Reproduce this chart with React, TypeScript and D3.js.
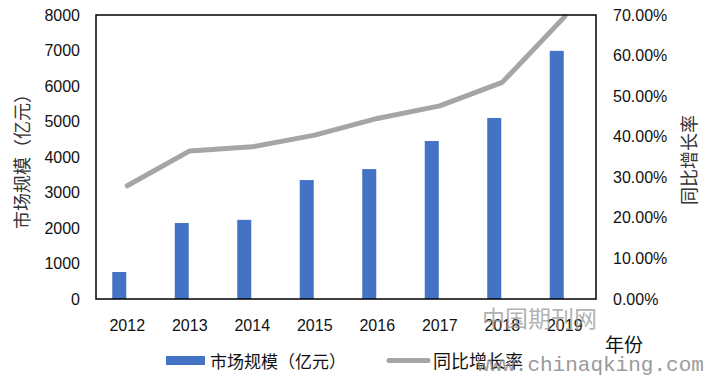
import React from "react";
import * as d3 from "d3";

const categories = ["2012", "2013", "2014", "2015", "2016", "2017", "2018", "2019"];
const marketSize = [760, 2140, 2230, 3350, 3660, 4450, 5100, 6990];
const growthRate = [27.9, 36.5, 37.5, 40.4, 44.5, 47.6, 53.4, 69.6];
const leftTicks = [0, 1000, 2000, 3000, 4000, 5000, 6000, 7000, 8000];
const rightTicks = [0, 10, 20, 30, 40, 50, 60, 70];
const seriesNames = ["市场规模（亿元）", "同比增长率"];

const W = 706;
const H = 380;
const plot = { left: 96, right: 596, top: 15, bottom: 299 };
const numFont = "'Liberation Sans', Arial, sans-serif";
const cjkFont = "'Noto Sans CJK SC', sans-serif";

export default function App() {
  const x = d3.scaleBand<string>().domain(categories).range([plot.left, plot.right]).padding(0);
  const sub = d3.scaleBand<string>().domain(["bar", "line"]).range([0, 28]);
  const yL = d3.scaleLinear().domain([0, 8000]).range([plot.bottom, plot.top]);
  const yR = d3.scaleLinear().domain([0, 70]).range([plot.bottom, plot.top]);
  const center = (c: string) => (x(c) as number) + x.bandwidth() / 2;

  const line = d3
    .line<number>()
    .x((_, i) => center(categories[i]))
    .y((d) => yR(d));

  return (
    <svg
      width={W}
      height={H}
      style={{ position: "absolute", left: 0, top: 0, background: "#fff" }}
    >
      <rect x={0} y={0} width={W} height={H} fill="#fff" />
      {/* bars */}
      {marketSize.map((v, i) => {
        const c = categories[i];
        const bx = center(c) - 15 + (sub("bar") as number);
        return (
          <rect
            key={c}
            x={bx}
            y={yL(v)}
            width={sub.bandwidth()}
            height={yL(0) - yL(v)}
            fill="#4472C4"
          />
        );
      })}
      {/* line */}
      <path
        d={line(growthRate) || ""}
        fill="none"
        stroke="#A5A5A5"
        strokeWidth={5}
        strokeLinecap="round"
        strokeLinejoin="round"
      />
      {/* frame */}
      <rect
        x={plot.left}
        y={plot.top}
        width={plot.right - plot.left}
        height={plot.bottom - plot.top}
        fill="none"
        stroke="#000"
        strokeWidth={1.5}
      />
      {/* left ticks */}
      {leftTicks.map((t) => (
        <text
          key={"l" + t}
          x={80}
          y={yL(t)}
          textAnchor="end"
          dominantBaseline="central"
          fontFamily={numFont}
          fontSize={16}
          fill="#111"
        >
          {t}
        </text>
      ))}
      {/* right ticks */}
      {rightTicks.map((t) => (
        <text
          key={"r" + t}
          x={613}
          y={yR(t)}
          textAnchor="start"
          dominantBaseline="central"
          fontFamily={numFont}
          fontSize={16}
          fill="#111"
        >
          {d3.format(".2f")(t) + "%"}
        </text>
      ))}
      {/* x labels */}
      {categories.map((c) => (
        <text
          key={"x" + c}
          x={center(c)}
          y={325}
          textAnchor="middle"
          dominantBaseline="central"
          fontFamily={numFont}
          fontSize={16}
          fill="#111"
        >
          {c}
        </text>
      ))}
      {/* axis titles */}
      <text
        transform={`translate(21,${(plot.top + plot.bottom) / 2}) rotate(-90)`}
        textAnchor="middle"
        dominantBaseline="central"
        fontFamily={cjkFont}
        fontSize={18}
        fill="#333"
      >
        市场规模（亿元）
      </text>
      <text
        transform={`translate(688,${160}) rotate(-90)`}
        textAnchor="middle"
        dominantBaseline="central"
        fontFamily={cjkFont}
        fontSize={18}
        fill="#333"
      >
        同比增长率
      </text>
      <text
        x={624}
        y={343}
        textAnchor="middle"
        dominantBaseline="central"
        fontFamily={cjkFont}
        fontSize={19}
        fill="#111"
      >
        年份
      </text>
      {/* legend */}
      <rect x={166} y={356} width={39} height={9} fill="#4472C4" />
      <text
        x={210}
        y={360}
        dominantBaseline="central"
        fontFamily={cjkFont}
        fontSize={17}
        fill="#111"
      >
        {seriesNames[0]}
      </text>
      <line
        x1={389}
        x2={428}
        y1={360.5}
        y2={360.5}
        stroke="#A5A5A5"
        strokeWidth={5}
        strokeLinecap="round"
      />
      <text
        x={433}
        y={360}
        dominantBaseline="central"
        fontFamily={cjkFont}
        fontSize={18}
        fill="#111"
      >
        {seriesNames[1]}
      </text>
      {/* watermark */}
      <text
        x={482}
        y={317}
        dominantBaseline="central"
        fontFamily={cjkFont}
        fontSize={23}
        fill="#999"
        opacity={0.75}
      >
        中国期刊网
      </text>
      <text
        x={477}
        y={365}
        dominantBaseline="central"
        fontFamily="'Liberation Mono', 'DejaVu Sans Mono', monospace"
        fontSize={21}
        fill="#8a8a8a"
        opacity={0.85}
      >
        www.chinaqking.com
      </text>
    </svg>
  );
}
